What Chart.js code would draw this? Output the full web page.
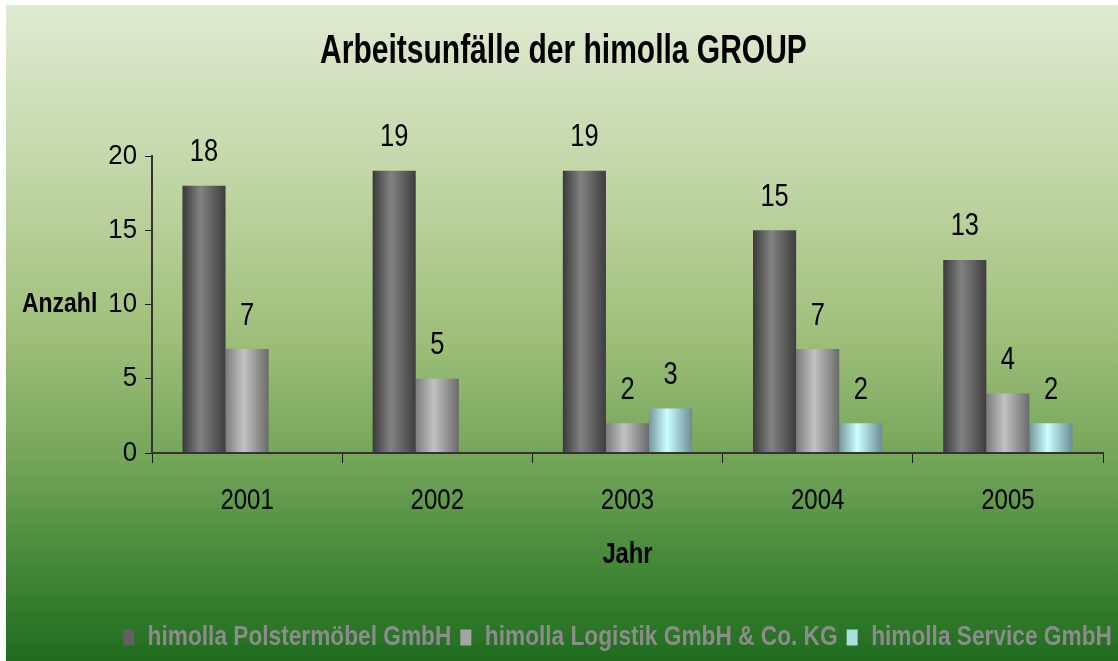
<!DOCTYPE html>
<html>
<head>
<meta charset="utf-8">
<script src="https://cdn.jsdelivr.net/npm/chart.js@4.4.0/dist/chart.umd.min.js"></script>
<style>
  html, body { margin: 0; padding: 0; background: #fff; }
  #wrap { width: 1118px; height: 661px; }
</style>
</head>
<body>
<div id="wrap"><canvas id="accidents" width="1118" height="661"></canvas></div>
<script>
const years = ['2001', '2002', '2003', '2004', '2005'];
const polster = [18, 19, 19, 15, 13];
const logistik = [7, 5, 2, 7, 4];
const service = [null, null, 3, 2, 2];
const seriesNames = ['himolla Polstermöbel GmbH', 'himolla Logistik GmbH & Co. KG', 'himolla Service GmbH'];
const yTicks = [0, 5, 10, 15, 20];

const SANS = "'Liberation Sans', Arial, sans-serif";

// left edge, middle, right edge of each bar's shading
const shades = [
  ['#3a3a3a', '#828282', '#3e3e3e'],
  ['#7c7c7c', '#c2c2c2', '#6a6a6a'],
  ['#76979e', '#ccffff', '#6b8c93']
];

// the original text is horizontally squeezed, so text gets scaled on x
let squeeze = 1;

function squeezeText(ctx){
  const fill = ctx.fillText.bind(ctx);
  const measure = ctx.measureText.bind(ctx);
  ctx.fillText = function(t, x, y, mw){
    if (squeeze === 1) return fill(t, x, y, mw);
    ctx.save();
    ctx.translate(x, y);
    ctx.scale(squeeze, 1);
    fill(t, 0, 0);
    ctx.restore();
  };
  ctx.measureText = function(t){
    const m = measure(t);
    if (squeeze === 1) return m;
    return {
      width: m.width * squeeze,
      actualBoundingBoxAscent: m.actualBoundingBoxAscent,
      actualBoundingBoxDescent: m.actualBoundingBoxDescent,
      actualBoundingBoxLeft: m.actualBoundingBoxLeft * squeeze,
      actualBoundingBoxRight: m.actualBoundingBoxRight * squeeze
    };
  };
}

function squeezed(obj, name, s, dx){
  if (obj['_sq_' + name]) return;
  obj['_sq_' + name] = true;
  const orig = obj[name];
  obj[name] = function(){
    const ctx = this.ctx;
    const prev = squeeze;
    squeeze = s;
    if (dx) { ctx.save(); ctx.translate(dx, 0); }
    const r = orig.apply(this, arguments);
    if (dx) ctx.restore();
    squeeze = prev;
    return r;
  };
}

const backdrop = {
  id: 'backdrop',
  beforeInit(chart){
    squeezeText(chart.ctx);
  },
  afterInit(chart){
    squeezed(chart.titleBlock, 'draw', 0.75, 9);
    squeezed(chart.legend, 'fit', 0.84);
    squeezed(chart.legend, 'draw', 0.84, 63);
  },
  beforeDraw(chart){
    const ctx = chart.ctx;
    const g = ctx.createLinearGradient(0, 5, 0, 661);
    g.addColorStop(0, '#dfead1');
    g.addColorStop(0.25, '#c3d7a8');
    g.addColorStop(0.5, '#a0bf7b');
    g.addColorStop(0.7, '#72a458');
    g.addColorStop(0.86, '#428737');
    g.addColorStop(1, '#1f6c1f');
    ctx.save();
    ctx.fillStyle = g;
    ctx.fillRect(6, 5, 1112, 656);
    ctx.restore();
  }
};

const barShading = {
  id: 'barShading',
  beforeDatasetsDraw(chart){
    const ctx = chart.ctx;
    chart.data.datasets.forEach((ds, di) => {
      chart.getDatasetMeta(di).data.forEach(el => {
        const x0 = el.x - el.width / 2, x1 = el.x + el.width / 2;
        const g = ctx.createLinearGradient(x0, 0, x1, 0);
        g.addColorStop(0, shades[di][0]);
        g.addColorStop(0.42, shades[di][1]);
        g.addColorStop(1, shades[di][2]);
        el.options.backgroundColor = g;
      });
    });
  }
};

const valueLabels = {
  id: 'valueLabels',
  afterDatasetsDraw(chart){
    const ctx = chart.ctx;
    ctx.save();
    ctx.font = '31px ' + SANS;
    ctx.fillStyle = '#000';
    ctx.textAlign = 'center';
    ctx.textBaseline = 'middle';
    squeeze = 0.82;
    chart.data.datasets.forEach((ds, di) => {
      chart.getDatasetMeta(di).data.forEach((el, i) => {
        if (ds.data[i] == null) return;
        ctx.fillText(String(ds.data[i]), el.x, el.y - 33);
      });
    });
    squeeze = 1;
    ctx.restore();
  }
};

const yCaption = {
  id: 'yCaption',
  afterDraw(chart){
    const ctx = chart.ctx;
    ctx.save();
    ctx.font = 'bold 28px ' + SANS;
    ctx.fillStyle = '#000';
    ctx.textAlign = 'left';
    ctx.textBaseline = 'middle';
    squeeze = 0.82;
    ctx.fillText('Anzahl', 22, chart.scales.y.getPixelForValue(10));
    squeeze = 1;
    ctx.restore();
  }
};

new Chart(document.getElementById('accidents'), {
  type: 'bar',
  data: {
    labels: years,
    datasets: [
      { label: seriesNames[0], data: polster, backgroundColor: () => '#616161' },
      { label: seriesNames[1], data: logistik, backgroundColor: () => '#a4a4a4' },
      { label: seriesNames[2], data: service, backgroundColor: () => '#a9dede' }
    ]
  },
  options: {
    responsive: false,
    animation: false,
    events: [],
    layout: { padding: { left: 6, top: 5, right: 15, bottom: 0 } },
    datasets: {
      bar: { categoryPercentage: 0.68, barPercentage: 1, borderWidth: 0 }
    },
    scales: {
      x: {
        grid: { drawOnChartArea: false, drawTicks: true, tickLength: 10, color: '#1a1a1a', lineWidth: 1 },
        border: { color: '#333', width: 2, z: 1 },
        ticks: { color: '#000', padding: 20, font: { family: SANS, size: 30 } },
        title: { display: true, text: 'Jahr', color: '#000', padding: { top: 0, bottom: 43 },
                 font: { family: SANS, size: 29, weight: 'bold' } },
        afterFit(scale){
          scale.height = 162;
          squeezed(scale, 'drawLabels', 0.8);
          squeezed(scale, 'drawTitle', 0.82);
        }
      },
      y: {
        min: 0,
        max: 20,
        afterBuildTicks(scale){ scale.ticks = yTicks.map(v => ({ value: v })); },
        grid: { drawOnChartArea: false, drawTicks: true, tickLength: 7, color: '#1a1a1a', lineWidth: 1 },
        border: { color: '#333', width: 2, z: 1 },
        ticks: { color: '#000', padding: 8, font: { family: SANS, size: 28 } },
        afterFit(scale){
          scale.width = 146;
          squeezed(scale, 'drawLabels', 0.92);
        }
      }
    },
    plugins: {
      title: {
        display: true,
        text: 'Arbeitsunfälle der himolla GROUP',
        color: '#000',
        padding: { top: 23, bottom: 80 },
        font: { family: SANS, size: 40, weight: 'bold' }
      },
      legend: {
        position: 'bottom',
        labels: {
          color: '#8c8c8c',
          boxWidth: 11,
          boxHeight: 16,
          padding: 9,
          font: { family: SANS, size: 27, weight: 'bold' }
        }
      },
      tooltip: { enabled: false }
    }
  },
  plugins: [backdrop, barShading, valueLabels, yCaption]
});
</script>
</body>
</html>
